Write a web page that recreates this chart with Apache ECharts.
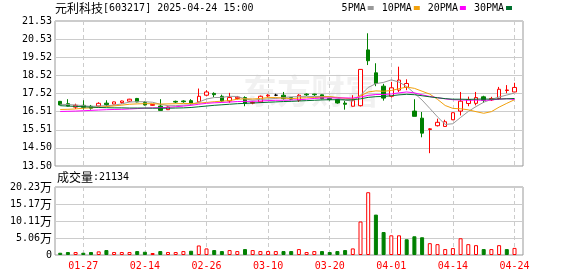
<!DOCTYPE html>
<html><head><meta charset="utf-8">
<script src="https://cdn.jsdelivr.net/npm/echarts@6/dist/echarts.min.js"></script>
<style>html,body{margin:0;padding:0;background:#fff}#c{width:578px;height:276px}</style>
</head><body><div id="c"></div>
<script>
const stockName = '元利科技';
const stockInfo = '[603217] 2025-04-24 15:00';
const dates = ['01-22','01-23','01-24','01-27','02-05','02-06','02-07','02-10','02-11','02-12','02-13','02-14','02-17','02-18','02-19','02-20','02-21','02-24','02-25','02-26','02-27','02-28','03-03','03-04','03-05','03-06','03-07','03-10','03-11','03-12','03-13','03-14','03-17','03-18','03-19','03-20','03-21','03-24','03-25','03-26','03-27','03-28','03-31','04-01','04-02','04-03','04-07','04-08','04-09','04-10','04-11','04-14','04-15','04-16','04-17','04-18','04-21','04-22','04-23','04-24'];
const labelDates = ['01-27','02-14','02-26','03-10','03-20','04-01','04-14','04-24'];
const openP  = [17.08,16.95,16.76,16.86,16.81,16.82,16.98,16.93,17.01,17.09,17.24,17.02,16.86,16.82,16.62,17.08,17.10,17.12,17.05,17.42,17.52,17.36,17.10,17.24,17.29,16.98,17.05,17.38,17.42,17.42,17.29,17.14,17.48,17.48,17.44,17.24,17.18,16.98,16.81,16.84,19.93,18.66,17.92,17.36,17.70,17.85,16.54,16.15,15.52,15.73,15.69,16.06,16.54,16.96,16.97,17.33,17.16,17.24,17.68,17.60];
const closeP = [16.88,16.82,16.86,16.75,16.70,16.97,16.90,17.05,17.10,17.20,17.05,16.88,16.91,16.58,16.77,17.04,17.06,16.98,17.36,17.60,17.45,17.10,17.29,17.31,16.96,17.02,17.36,17.42,17.42,17.23,17.20,17.42,17.44,17.45,17.23,17.18,16.99,16.92,17.14,18.85,19.33,18.07,17.26,17.83,18.26,18.07,16.25,15.32,15.56,15.92,15.95,16.45,17.09,17.18,17.29,17.14,17.24,17.75,17.71,17.85];
const lowP   = [16.86,16.80,16.66,16.62,16.62,16.80,16.80,16.92,16.95,17.04,17.03,16.85,16.84,16.57,16.60,16.98,17.00,16.90,17.03,17.36,17.32,17.05,17.00,17.18,16.81,16.92,17.00,17.33,17.37,17.18,17.15,17.05,17.38,17.38,17.20,17.12,16.95,16.62,16.79,16.80,19.09,17.92,17.12,17.29,17.60,17.70,16.25,15.09,14.21,15.69,15.69,16.04,16.30,16.81,16.86,17.00,17.10,17.18,17.53,17.60];
const highP  = [17.10,17.20,16.95,17.14,16.88,17.03,17.14,17.07,17.12,17.22,17.27,17.10,16.93,17.20,16.80,17.12,17.14,17.20,17.79,17.70,17.58,17.45,17.55,17.38,17.36,17.08,17.40,17.48,17.50,17.60,17.32,17.48,17.52,17.50,17.46,17.28,17.22,17.10,17.42,18.85,20.85,19.19,18.05,18.16,19.00,18.30,17.20,16.49,15.60,16.12,16.06,16.47,17.60,17.34,17.60,17.39,17.33,17.88,17.98,18.11];
const prevClose0 = 17.05;
const volumes = [6700,8800,8800,6700,8800,10800,14700,8800,8800,8800,11700,9700,5900,11700,8800,8800,11700,12600,28400,19600,14700,11700,14700,11700,17600,14700,11700,11700,11700,11700,11700,17600,8800,11700,11700,8800,11700,14700,19600,99700,186800,120200,68300,58600,58600,46900,55700,52800,35200,32300,17600,20500,49800,32300,29300,17600,17600,29300,17600,21134];
const ma5  = [16.92,16.90,16.88,16.84,16.80,16.82,16.84,16.87,16.94,17.04,17.06,17.06,17.03,16.92,16.84,16.84,16.87,16.89,17.04,17.21,17.29,17.30,17.36,17.35,17.22,17.14,17.19,17.21,17.24,17.29,17.33,17.34,17.34,17.35,17.35,17.34,17.26,17.15,17.09,17.42,17.85,18.06,18.13,18.27,18.15,17.90,17.53,17.15,16.69,16.22,15.80,15.84,16.19,16.52,16.79,17.03,17.19,17.32,17.43,17.54];
const ma10 = [16.63,16.64,16.66,16.70,16.72,16.75,16.79,16.83,16.87,16.92,16.94,16.95,16.95,16.93,16.94,16.95,16.96,16.96,16.98,17.02,17.06,17.09,17.12,17.20,17.22,17.21,17.24,17.29,17.29,17.26,17.23,17.26,17.28,17.29,17.32,17.34,17.30,17.25,17.22,17.38,17.60,17.66,17.64,17.68,17.78,17.87,17.80,17.64,17.48,17.19,16.85,16.69,16.67,16.61,16.51,16.42,16.51,16.76,16.97,17.17];
const ma20 = [16.52,16.53,16.54,16.56,16.58,16.60,16.62,16.63,16.64,16.66,16.68,16.70,16.72,16.73,16.75,16.78,16.82,16.86,16.92,16.97,17.00,17.02,17.04,17.07,17.08,17.08,17.10,17.12,17.14,17.14,17.15,17.17,17.20,17.24,17.27,17.27,17.27,17.27,17.26,17.32,17.41,17.46,17.46,17.49,17.55,17.60,17.55,17.44,17.35,17.28,17.22,17.17,17.16,17.14,17.15,17.14,17.16,17.20,17.23,17.18];
const ma30 = [16.84,16.82,16.80,16.78,16.76,16.74,16.73,16.72,16.72,16.71,16.71,16.71,16.70,16.70,16.70,16.71,16.72,16.74,16.78,16.82,16.86,16.89,16.92,16.95,16.97,16.99,17.01,17.03,17.05,17.07,17.08,17.10,17.12,17.14,17.16,17.17,17.17,17.16,17.17,17.22,17.30,17.34,17.35,17.39,17.44,17.47,17.45,17.39,17.33,17.28,17.23,17.20,17.20,17.19,17.20,17.21,17.20,17.21,17.22,17.24];
const maNames = ['5PMA','10PMA','20PMA','30PMA'];
const priceTicks = ['13.50','14.50','15.51','16.51','17.52','18.52','19.52','20.53','21.53'];
const priceMin = 13.50, priceMax = 21.53;
const volTicks = ['0','5.06万','10.11万','15.17万','20.23万'];
const volMax = 202300;

const RED = '#ff0000', GREEN = '#008000';
const MONO = '"DejaVu Sans Mono", monospace';
const CJK = '"Noto Sans CJK SC", sans-serif';
const maColors = ['#999999', '#f2a10c', '#ff00ff', '#00702e'];
const maData = [ma5, ma10, ma20, ma30];
const dashStyle = { color: '#cccccc', type: [4, 3], width: 1 };

// geometry of the data area (category slots)
const dataLeft = 60.2, dataWidth = 454.3;
const step = dataWidth / (dates.length - 1);
const labelIdx = labelDates.map(d => dates.indexOf(d));
const labelGap = labelIdx[1] - labelIdx[0];
// helper axis for the price-panel date guides: value u = index - first label index
const guideMin = -labelGap, guideMax = (dates.length - 1 - labelIdx[0]) + labelGap;
const guideLeft = dataLeft + (labelIdx[0] + guideMin) * step;
const guideWidth = (guideMax - guideMin) * step;

const isLabel = (idx, val) => labelDates.indexOf(val) >= 0;
const volItems = volumes.map((v, i) => {
  const prev = i === 0 ? prevClose0 : closeP[i - 1];
  const up = closeP[i] >= prev;
  return { value: v, itemStyle: up ? { color: '#fff', borderColor: RED, borderWidth: 1 } : { color: GREEN, borderColor: GREEN, borderWidth: 1 } };
});
const splitH = { show: true, lineStyle: { color: '#cccccc', width: 1 } };
const richTxt = { c: { fontFamily: CJK, fontSize: 12, color: '#000', fontWeight: 'normal' }, m: { fontFamily: MONO, fontSize: 10, color: '#000', fontWeight: 'normal' } };

const chart = echarts.init(document.getElementById('c'), null, { renderer: 'canvas' });
chart.setOption({
  animation: false,
  backgroundColor: '#fff',
  title: [
    { text: '{c|' + stockName + '}{m|' + stockInfo + '}', left: 55, top: 2, padding: 0,
      textStyle: { fontWeight: 'normal', rich: richTxt } },
    { text: '{c|成交量}{m|:' + volumes[volumes.length - 1] + '}', left: 57, top: 171, padding: 0,
      textStyle: { fontWeight: 'normal', rich: richTxt } }
  ],
  legend: {
    data: maNames.map((n, i) => ({ name: n, icon: 'rect', itemStyle: { color: maColors[i] } })),
    right: 66, top: 3, padding: 0, itemGap: 8, itemWidth: 6, itemHeight: 4, align: 'right',
    textStyle: { fontFamily: MONO, fontSize: 10, color: '#000', padding: [0, -3, 0, 0] }
  },
  graphic: [
    { type: 'text', left: 243, top: 74, z: -10, silent: true,
      style: { text: '东方财富', fill: 'rgba(0,0,0,0.055)', font: 'bold 34px "Noto Sans CJK SC"' } }
  ],
  grid: [
    { left: dataLeft, width: dataWidth, top: 21, height: 145 },
    { left: 55, right: 55, top: 21, height: 145, show: true, borderColor: '#999', borderWidth: 1, backgroundColor: 'rgba(0,0,0,0)', z: -5 },
    { left: dataLeft, width: dataWidth, top: 187, height: 68 },
    { left: 55, right: 55, top: 187, height: 68, show: true, borderColor: '#999', borderWidth: 1, backgroundColor: 'rgba(0,0,0,0)', z: -5 },
    { left: guideLeft, width: guideWidth, top: 21, height: 145 }
  ],
  xAxis: [
    { gridIndex: 0, type: 'category', data: dates, boundaryGap: false,
      axisLine: { show: false }, axisTick: { show: false }, axisLabel: { show: false }, splitLine: { show: false } },
    { gridIndex: 1, type: 'value', min: 0, max: 1, show: false },
    { gridIndex: 2, type: 'category', data: dates, boundaryGap: false,
      axisLine: { show: false }, axisTick: { show: false },
      axisLabel: { show: true, interval: isLabel, color: RED, fontFamily: MONO, fontSize: 10, margin: 6 },
      splitLine: { show: true, interval: isLabel, lineStyle: dashStyle } },
    { gridIndex: 3, type: 'value', min: 0, max: 1, show: false },
    { gridIndex: 4, type: 'value', min: guideMin, max: guideMax, interval: labelGap,
      axisLine: { show: false }, axisTick: { show: false }, axisLabel: { show: false },
      splitLine: { show: true, showMinLine: false, showMaxLine: false, lineStyle: dashStyle } }
  ],
  yAxis: [
    { gridIndex: 0, type: 'value', min: priceMin, max: priceMax, show: false, splitLine: { show: false } },
    { gridIndex: 1, type: 'value', min: 0, max: priceTicks.length - 1, interval: 1,
      axisLine: { show: false }, axisTick: { show: false }, splitLine: splitH,
      axisLabel: { formatter: v => priceTicks[Math.round(v)], color: '#000', fontFamily: MONO, fontSize: 10, margin: 3 } },
    { gridIndex: 2, type: 'value', min: 0, max: volMax, show: false, splitLine: { show: false } },
    { gridIndex: 3, type: 'value', min: 0, max: volTicks.length - 1, interval: 1,
      axisLine: { show: false }, axisTick: { show: false }, splitLine: splitH,
      axisLabel: { margin: 3,
        formatter: v => { const s = volTicks[Math.round(v)]; return s.indexOf('万') >= 0 ? '{m|' + s.replace('万', '') + '}{c|万}' : '{m|' + s + '}'; },
        rich: richTxt } },
    { gridIndex: 4, type: 'value', min: 0, max: 1, show: false }
  ],
  series: [
    { name: 'K', type: 'candlestick', xAxisIndex: 0, yAxisIndex: 0, barWidth: 4, clip: false, z: 2,
      data: dates.map((d, i) => [openP[i], closeP[i], lowP[i], highP[i]]),
      itemStyle: { color: '#fff', color0: GREEN, borderColor: RED, borderColor0: GREEN, borderColorDoji: '#000', borderWidth: 1 } },
    ...maNames.map((n, k) => ({
      name: n, type: 'line', xAxisIndex: 0, yAxisIndex: 0, data: maData[k], symbol: 'none', showSymbol: false,
      z: 3, clip: false, lineStyle: { color: maColors[k], width: 1 }, itemStyle: { color: maColors[k] }
    })),
    { name: 'VOL', type: 'bar', xAxisIndex: 2, yAxisIndex: 2, barWidth: 4, clip: false, data: volItems }
  ]
});
</script></body></html>
